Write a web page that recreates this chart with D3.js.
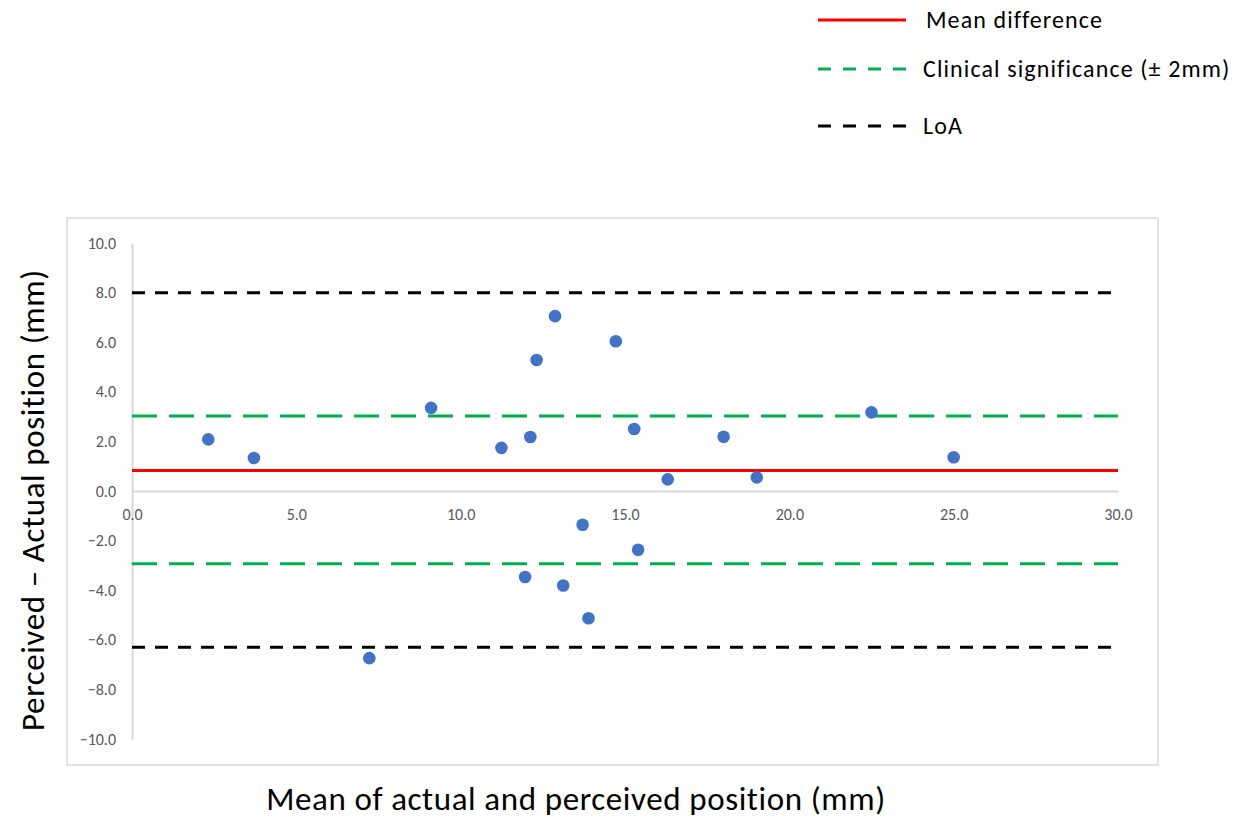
<!DOCTYPE html>
<html><head><meta charset="utf-8">
<script src="https://cdn.jsdelivr.net/npm/d3@7"></script>
<style>body{margin:0;background:#fff}svg{display:block}</style>
</head><body>
<svg id="c" width="1236" height="819"></svg>
<script>
const xTicks = [0, 5, 10, 15, 20, 25, 30];
const yTicks = [-10, -8, -6, -4, -2, 0, 2, 4, 6, 8, 10];
const meanX = [2.32, 3.71, 7.22, 9.10, 11.24, 12.12, 12.31, 12.87, 11.96, 13.12, 13.71, 13.89, 14.72, 15.28, 15.40, 16.30, 18.00, 19.01, 22.50, 25.00];
const diffY = [2.08, 1.33, -6.74, 3.35, 1.74, 2.18, 5.28, 7.05, -3.47, -3.81, -1.36, -5.13, 6.04, 2.50, -2.37, 0.47, 2.19, 0.55, 3.17, 1.36];
const meanDiff = 0.83;
const clinical = [3.02, -2.93];
const loa = [7.99, -6.30];
const legendLabels = ["Mean difference", "Clinical significance (\u00b1 2mm)", "LoA"];

const svg = d3.select("#c");
const font = "Calibri, Carlito, Lato, 'Open Sans', sans-serif";
const x = d3.scaleLinear().domain([0, 30]).range([132, 1118]);
const y = d3.scaleLinear().domain([-10, 10]).range([739, 243]);

// outer chart box
svg.append("rect").attr("x", 67).attr("y", 218).attr("width", 1091).attr("height", 547)
  .attr("fill", "none").attr("stroke", "#d9d9d9").attr("stroke-width", 1.5);

// y axis
const yAxis = d3.axisLeft(y).tickValues(yTicks).tickFormat(d3.format(".1f")).tickSize(0).tickPadding(16);
const gy = svg.append("g").attr("transform", `translate(${x(0)},0)`).call(yAxis);
gy.select(".domain").attr("stroke", "#d9d9d9").attr("stroke-width", 2);
gy.selectAll("text").attr("fill", "#595959").style("font-family", font).style("font-size", "16px");

// x axis at y=0
const xAxis = d3.axisBottom(x).tickValues(xTicks).tickFormat(d3.format(".1f")).tickSize(0).tickPadding(18);
const gx = svg.append("g").attr("transform", `translate(0,${y(0)})`).call(xAxis);
gx.select(".domain").attr("stroke", "#d9d9d9").attr("stroke-width", 2);
gx.selectAll("text").attr("fill", "#595959").style("font-family", font).style("font-size", "16px");

// reference lines
function hline(v, color, dash) {
  svg.append("line").attr("x1", x(0)).attr("x2", x(30)).attr("y1", y(v)).attr("y2", y(v))
    .attr("stroke", color).attr("stroke-width", 3).attr("stroke-dasharray", dash);
}
loa.forEach(v => hline(v, "#000000", "13,10"));
clinical.forEach(v => hline(v, "#00b050", "25,12"));
hline(meanDiff, "#ff0000", null);

// points
svg.append("g").selectAll("circle").data(meanX.map((m, i) => [m, diffY[i]])).join("circle")
  .attr("cx", d => x(d[0])).attr("cy", d => y(d[1])).attr("r", 6.3).attr("fill", "#4472c4");

// axis titles
svg.append("text").attr("transform", `translate(44,500) rotate(-90)`).attr("text-anchor", "middle")
  .style("font-family", font).style("font-size", "33px").style("letter-spacing", "0.6px").attr("fill", "#000")
  .text("Perceived \u2013 Actual position (mm)");
svg.append("text").attr("x", 576).attr("y", 810).attr("text-anchor", "middle")
  .style("font-family", font).style("font-size", "33px").style("letter-spacing", "0.6px").attr("fill", "#000")
  .text("Mean of actual and perceived position (mm)");

// legend
const legY = [20, 69, 126];
const legStyle = [["#ff0000", null], ["#00b050", "13,12"], ["#000000", "13,12"]];
legendLabels.forEach((t, i) => {
  svg.append("line").attr("x1", 818).attr("x2", 906).attr("y1", legY[i]).attr("y2", legY[i])
    .attr("stroke", legStyle[i][0]).attr("stroke-width", 3).attr("stroke-dasharray", legStyle[i][1]);
  svg.append("text").attr("x", i === 0 ? 926 : 923).attr("y", legY[i] + 8)
    .style("font-family", font).style("font-size", "24px").style("letter-spacing", "1.1px").attr("fill", "#000").text(t);
});
</script>
</body></html>
